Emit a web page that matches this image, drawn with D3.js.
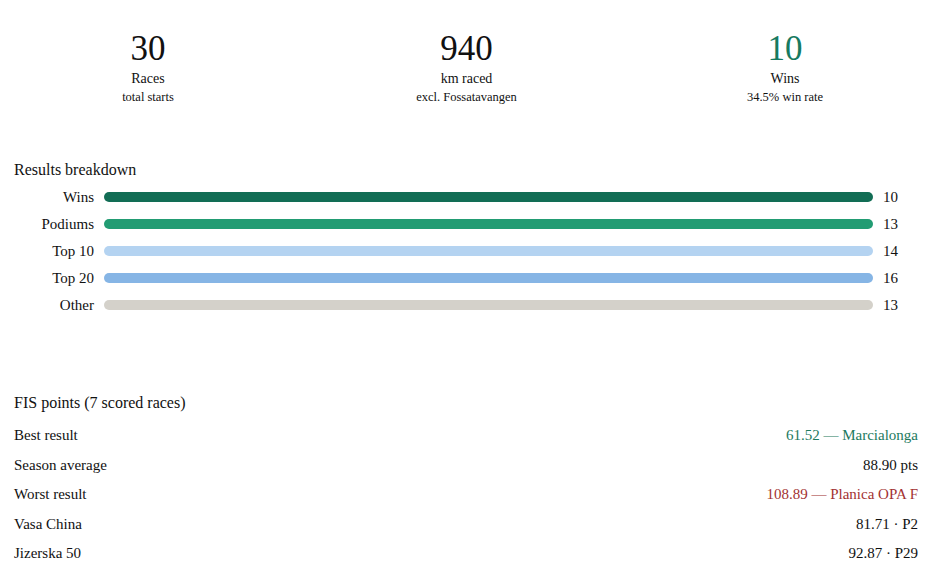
<!DOCTYPE html>
<html><head><meta charset="utf-8">
<script src="https://cdn.jsdelivr.net/npm/d3@7"></script>
<style>
html,body{margin:0;padding:0;background:#fff;font-family:"Times New Roman","Liberation Serif",Tinos,"DejaVu Serif",serif;}
svg{display:block;}
svg text{font-family:"Times New Roman","Liberation Serif",Tinos,"DejaVu Serif",serif;}
</style></head>
<body>
<svg id="chart" width="932" height="569"></svg>
<script>
// KPI cards
const kpiValues = ["30", "940", "10"];
const kpiLabels = ["Races", "km raced", "Wins"];
const kpiSubs = ["total starts", "excl. Fossatavangen", "34.5% win rate"];
const kpiColors = ["#111", "#111", "#177a60"];

// Results breakdown
const categories = ["Wins", "Podiums", "Top 10", "Top 20", "Other"];
const counts = [10, 13, 14, 16, 13];
const barColors = ["#126d55", "#229c73", "#b4d3f1", "#86b5e5", "#d4d1ca"];

// FIS points
const fisLabels = ["Best result", "Season average", "Worst result", "Vasa China", "Jizerska 50"];
const fisValues = ["61.52 — Marcialonga", "88.90 pts", "108.89 — Planica OPA F", "81.71 · P2", "92.87 · P29"];
const fisColors = ["#1d7a5e", "#111", "#a33232", "#111", "#111"];

const FONT = '"Times New Roman","Liberation Serif",Tinos,"DejaVu Serif",serif';
const svg = d3.select("#chart").attr("font-family", FONT);

// KPIs
const kx = d3.scalePoint().domain(d3.range(kpiValues.length)).range([148, 785]);
const kg = svg.selectAll("g.kpi").data(kpiValues).join("g").attr("class","kpi")
  .attr("transform", (d,i)=>`translate(${kx(i)},0)`);
kg.append("text").attr("y", 60).attr("text-anchor","middle").attr("font-size", 35)
  .attr("fill", (d,i)=>kpiColors[i]).text(d=>d);
kg.append("text").attr("y", 83).attr("text-anchor","middle").attr("font-size", 14)
  .attr("fill","#111").text((d,i)=>kpiLabels[i]);
kg.append("text").attr("y", 101).attr("text-anchor","middle").attr("font-size", 12.5)
  .attr("fill","#111").text((d,i)=>kpiSubs[i]);

// Results breakdown
svg.append("text").attr("x",14).attr("y",175).attr("font-size",16).attr("fill","#111").text("Results breakdown");
const y = d3.scalePoint().domain(categories).range([197, 305]);
const x0 = 104, x1 = 873;
const rows = svg.selectAll("g.row").data(categories).join("g").attr("class","row")
  .attr("transform", d=>`translate(0,${y(d)})`);
rows.append("text").attr("x",94).attr("dy","0.35em").attr("text-anchor","end")
  .attr("font-size",15).attr("fill","#111").text(d=>d);
rows.each(function(d,i){
  const xs = d3.scaleLinear().domain([0, counts[i]]).range([x0, x1]);
  d3.select(this).append("rect").attr("x", xs(0)).attr("y",-5)
    .attr("width", xs(counts[i]) - xs(0)).attr("height",10).attr("rx",5)
    .attr("fill", barColors[i]);
});
rows.append("text").attr("x",883).attr("dy","0.35em").attr("font-size",15)
  .attr("fill","#111").text((d,i)=>counts[i]);

// FIS points
svg.append("text").attr("x",14).attr("y",408).attr("font-size",16).attr("fill","#111").text("FIS points (7 scored races)");
const fy = d3.scalePoint().domain(fisLabels).range([435, 553]);
const fr = svg.selectAll("g.fis").data(fisLabels).join("g").attr("class","fis")
  .attr("transform", d=>`translate(0,${fy(d)})`);
fr.append("text").attr("x",14).attr("dy","0.35em").attr("font-size",15).attr("fill","#111").text(d=>d);
fr.append("text").attr("x",918).attr("dy","0.35em").attr("text-anchor","end").attr("font-size",15)
  .attr("fill",(d,i)=>fisColors[i]).text((d,i)=>fisValues[i]);
</script>
</body></html>
